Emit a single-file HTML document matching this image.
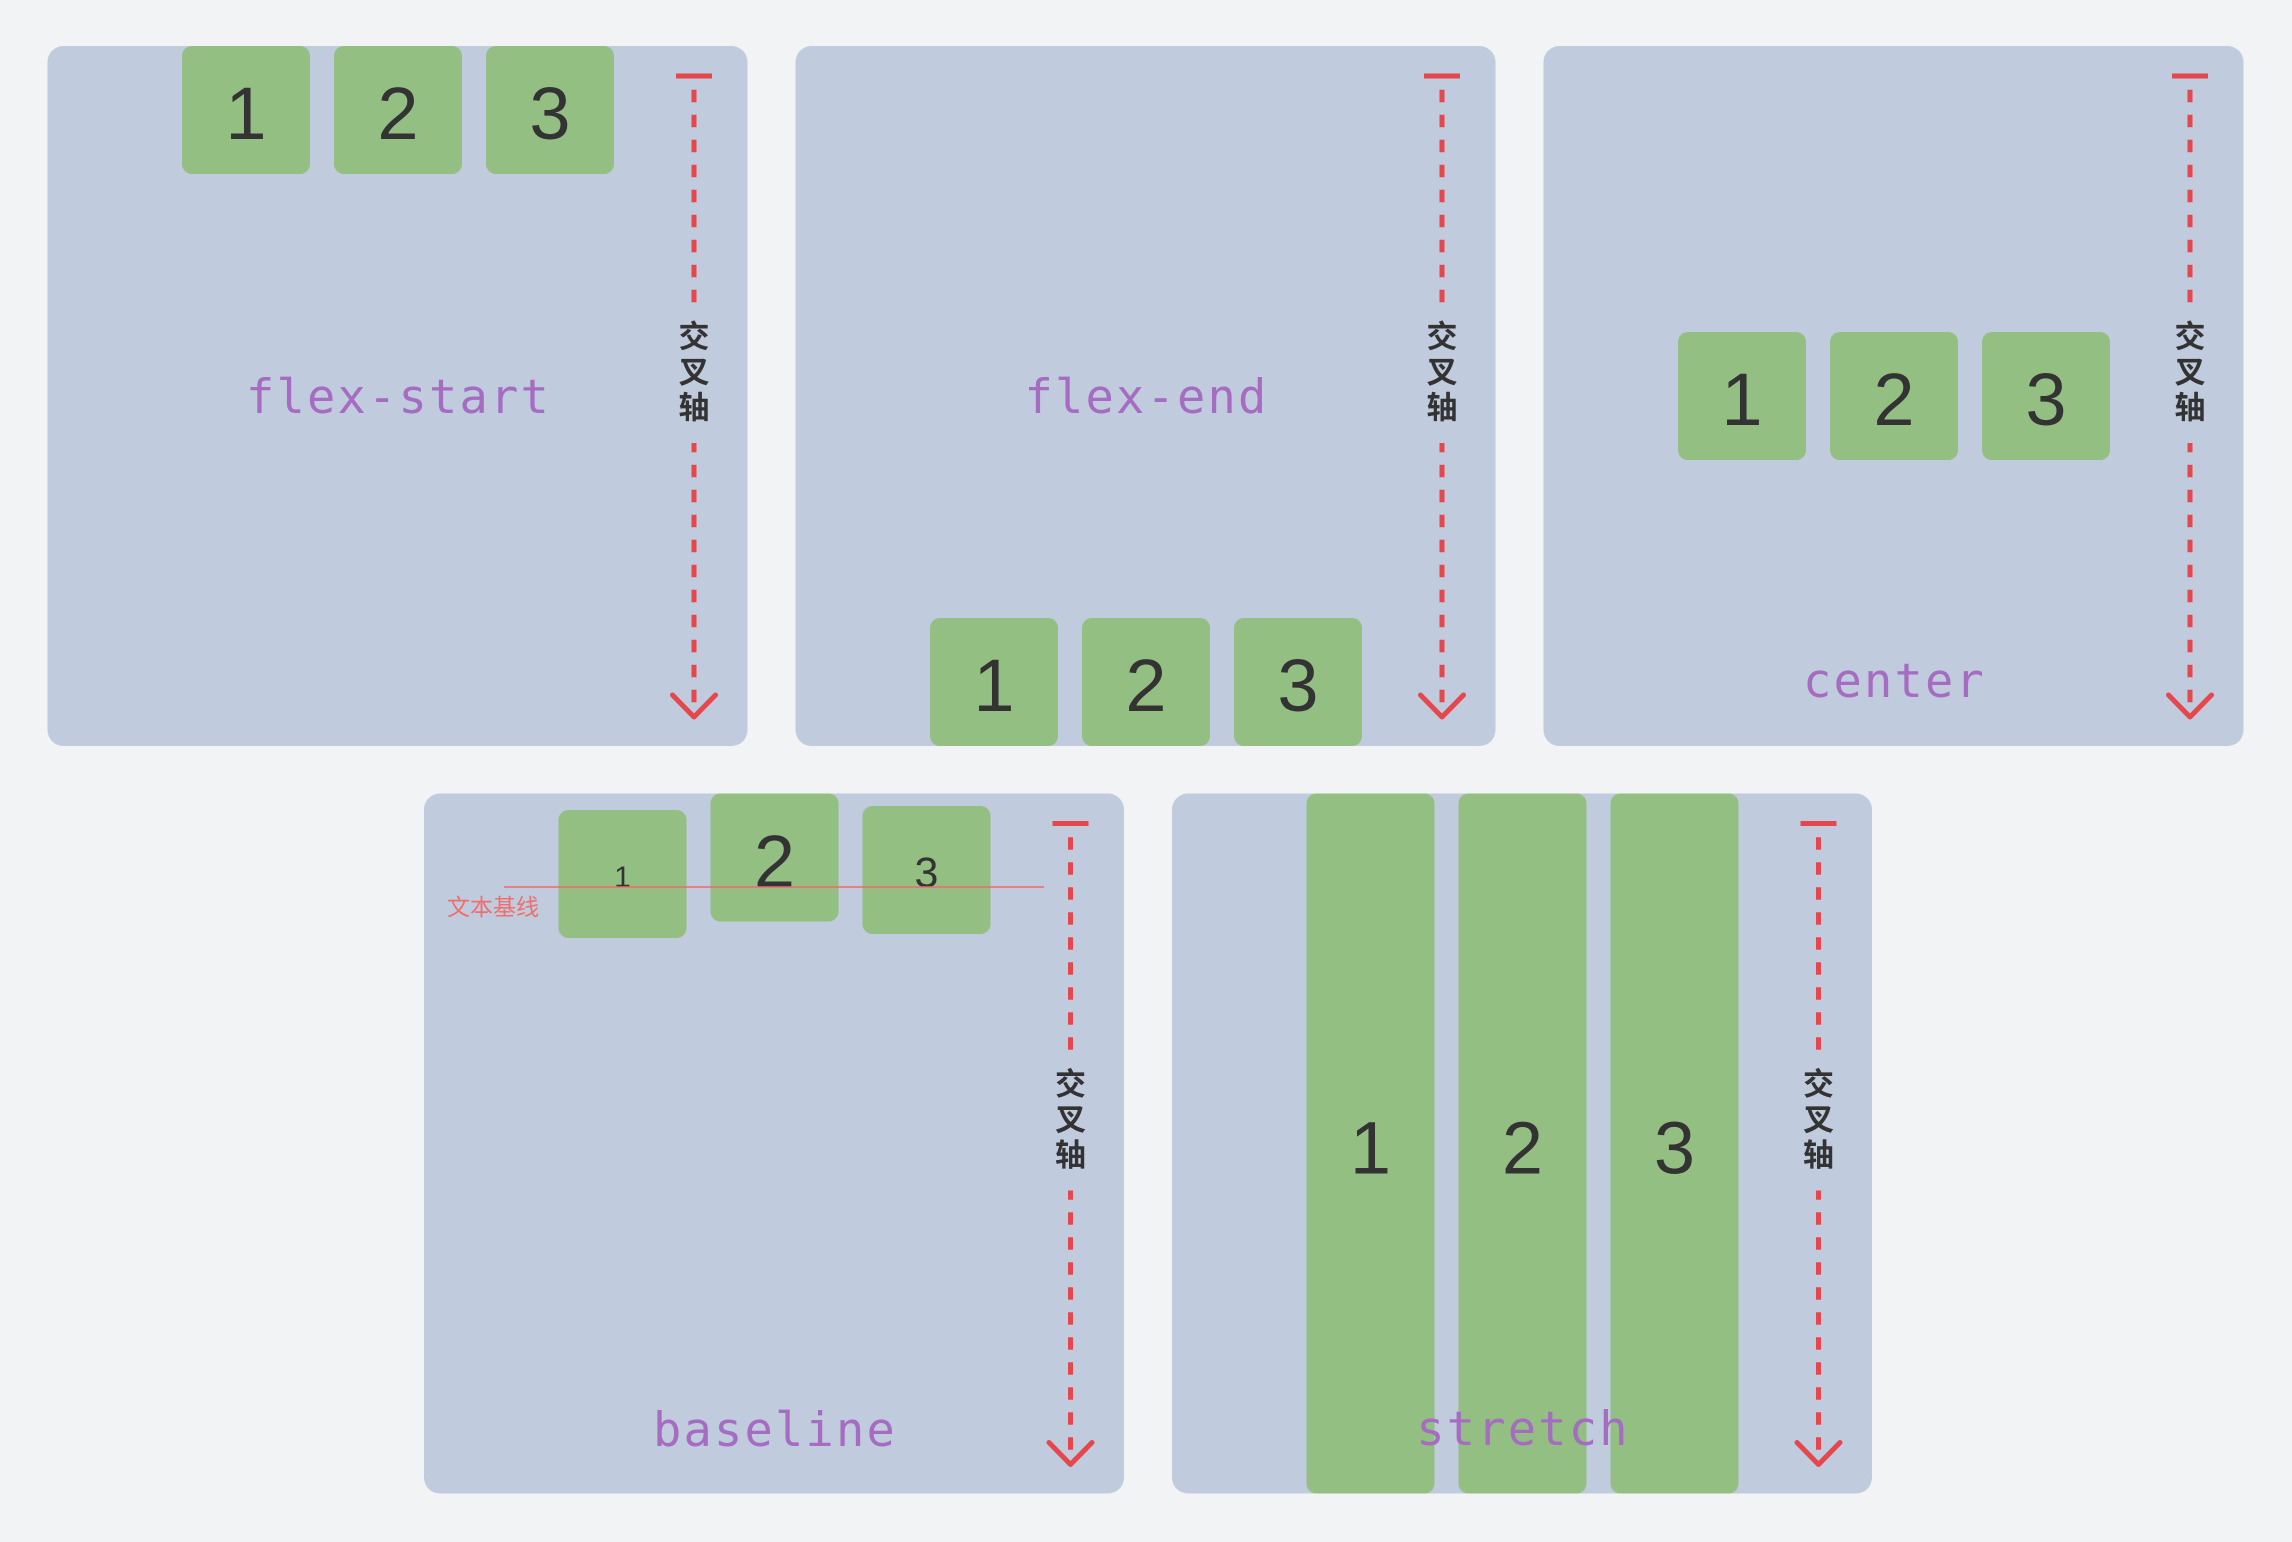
<!DOCTYPE html>
<html>
<head>
<meta charset="utf-8">
<style>
  html, body { margin: 0; padding: 0; background: #f1f3f5; }
  svg { display: block; }
  .panel { fill: #c0cbdd; }
  .box { fill: #94bf83; }
  .dig { font-family: "Liberation Sans", "DejaVu Sans", sans-serif; fill: #333333; text-anchor: middle; }
  .lbl { font-family: "DejaVu Sans Mono", "Liberation Mono", monospace; font-size: 47px; letter-spacing: 2.2px; fill: #a56cc1; text-anchor: middle; }
  .axis { font-family: "Liberation Sans", "Noto Sans CJK SC", sans-serif; font-size: 31px; font-weight: 700; fill: #333333; text-anchor: middle; dominant-baseline: central; }
  .red { stroke: #e5474c; fill: none; stroke-width: 5; }
</style>
</head>
<body>
<svg width="2292" height="1542" viewBox="0 0 2292 1542" xmlns="http://www.w3.org/2000/svg">
  <rect x="0" y="0" width="2292" height="1542" fill="#f1f3f5"/>

  <!-- Panel 1: flex-start -->
  <g transform="translate(47.5,46)">
    <rect class="panel" x="0" y="0" width="700" height="700" rx="16"/>
    <rect class="box" x="134.5" y="0" width="128" height="128" rx="10"/>
    <rect class="box" x="286.5" y="0" width="128" height="128" rx="10"/>
    <rect class="box" x="438.5" y="0" width="128" height="128" rx="10"/>
    <text class="dig" x="198.5" y="93" font-size="74">1</text>
    <text class="dig" x="350.5" y="93" font-size="74">2</text>
    <text class="dig" x="502.5" y="93" font-size="74">3</text>
    <text class="lbl" x="351" y="367">flex-start</text>
    <line class="red" x1="628.5" y1="30" x2="664.5" y2="30"/>
    <line class="red" x1="646.5" y1="30" x2="646.5" y2="669" stroke-dasharray="12.5 12.5" stroke-dashoffset="11.3"/>
    <polyline class="red" points="625,649 646.5,671 668,649" stroke-linecap="round" stroke-linejoin="round"/>
    <rect x="626" y="263" width="41" height="134" fill="#c0cbdd"/>
    <text class="axis" x="646.5" y="291">交</text>
    <text class="axis" x="646.5" y="326.5">叉</text>
    <text class="axis" x="646.5" y="362">轴</text>
  </g>

  <!-- Panel 2: flex-end -->
  <g transform="translate(795.5,46)">
    <rect class="panel" x="0" y="0" width="700" height="700" rx="16"/>
    <rect class="box" x="134.5" y="572" width="128" height="128" rx="10"/>
    <rect class="box" x="286.5" y="572" width="128" height="128" rx="10"/>
    <rect class="box" x="438.5" y="572" width="128" height="128" rx="10"/>
    <text class="dig" x="198.5" y="665" font-size="74">1</text>
    <text class="dig" x="350.5" y="665" font-size="74">2</text>
    <text class="dig" x="502.5" y="665" font-size="74">3</text>
    <text class="lbl" x="351" y="367">flex-end</text>
    <line class="red" x1="628.5" y1="30" x2="664.5" y2="30"/>
    <line class="red" x1="646.5" y1="30" x2="646.5" y2="669" stroke-dasharray="12.5 12.5" stroke-dashoffset="11.3"/>
    <polyline class="red" points="625,649 646.5,671 668,649" stroke-linecap="round" stroke-linejoin="round"/>
    <rect x="626" y="263" width="41" height="134" fill="#c0cbdd"/>
    <text class="axis" x="646.5" y="291">交</text>
    <text class="axis" x="646.5" y="326.5">叉</text>
    <text class="axis" x="646.5" y="362">轴</text>
  </g>

  <!-- Panel 3: center -->
  <g transform="translate(1543.5,46)">
    <rect class="panel" x="0" y="0" width="700" height="700" rx="16"/>
    <rect class="box" x="134.5" y="286" width="128" height="128" rx="10"/>
    <rect class="box" x="286.5" y="286" width="128" height="128" rx="10"/>
    <rect class="box" x="438.5" y="286" width="128" height="128" rx="10"/>
    <text class="dig" x="198.5" y="379" font-size="74">1</text>
    <text class="dig" x="350.5" y="379" font-size="74">2</text>
    <text class="dig" x="502.5" y="379" font-size="74">3</text>
    <text class="lbl" x="351" y="651">center</text>
    <line class="red" x1="628.5" y1="30" x2="664.5" y2="30"/>
    <line class="red" x1="646.5" y1="30" x2="646.5" y2="669" stroke-dasharray="12.5 12.5" stroke-dashoffset="11.3"/>
    <polyline class="red" points="625,649 646.5,671 668,649" stroke-linecap="round" stroke-linejoin="round"/>
    <rect x="626" y="263" width="41" height="134" fill="#c0cbdd"/>
    <text class="axis" x="646.5" y="291">交</text>
    <text class="axis" x="646.5" y="326.5">叉</text>
    <text class="axis" x="646.5" y="362">轴</text>
  </g>

  <!-- Panel 4: baseline -->
  <g transform="translate(424,793.5)">
    <rect class="panel" x="0" y="0" width="700" height="700" rx="16"/>
    <rect class="box" x="134.5" y="16.5" width="128" height="128" rx="10"/>
    <rect class="box" x="286.5" y="0" width="128" height="128" rx="10"/>
    <rect class="box" x="438.5" y="12.5" width="128" height="128" rx="10"/>
    <text class="dig" x="198.5" y="93.5" font-size="30">1</text>
    <text class="dig" x="350.5" y="93.5" font-size="74">2</text>
    <text class="dig" x="502.5" y="93.5" font-size="43">3</text>
    <line x1="80" y1="93.5" x2="620" y2="93.5" stroke="#ee6a6a" stroke-width="1.6"/>
    <text x="23" y="113.5" font-family="'Liberation Sans', 'Noto Sans CJK SC', sans-serif" font-size="23" fill="#ef6e6e" dominant-baseline="central">文本基线</text>
    <text class="lbl" x="351" y="652.5">baseline</text>
    <line class="red" x1="628.5" y1="30" x2="664.5" y2="30"/>
    <line class="red" x1="646.5" y1="30" x2="646.5" y2="669" stroke-dasharray="12.5 12.5" stroke-dashoffset="11.3"/>
    <polyline class="red" points="625,649 646.5,671 668,649" stroke-linecap="round" stroke-linejoin="round"/>
    <rect x="626" y="263" width="41" height="134" fill="#c0cbdd"/>
    <text class="axis" x="646.5" y="291">交</text>
    <text class="axis" x="646.5" y="326.5">叉</text>
    <text class="axis" x="646.5" y="362">轴</text>
  </g>

  <!-- Panel 5: stretch -->
  <g transform="translate(1172,793.5)">
    <rect class="panel" x="0" y="0" width="700" height="700" rx="16"/>
    <rect class="box" x="134.5" y="0" width="128" height="700" rx="10"/>
    <rect class="box" x="286.5" y="0" width="128" height="700" rx="10"/>
    <rect class="box" x="438.5" y="0" width="128" height="700" rx="10"/>
    <text class="dig" x="198.5" y="380" font-size="74">1</text>
    <text class="dig" x="350.5" y="380" font-size="74">2</text>
    <text class="dig" x="502.5" y="380" font-size="74">3</text>
    <text class="lbl" x="351" y="651.5">stretch</text>
    <line class="red" x1="628.5" y1="30" x2="664.5" y2="30"/>
    <line class="red" x1="646.5" y1="30" x2="646.5" y2="669" stroke-dasharray="12.5 12.5" stroke-dashoffset="11.3"/>
    <polyline class="red" points="625,649 646.5,671 668,649" stroke-linecap="round" stroke-linejoin="round"/>
    <rect x="626" y="263" width="41" height="134" fill="#c0cbdd"/>
    <text class="axis" x="646.5" y="291">交</text>
    <text class="axis" x="646.5" y="326.5">叉</text>
    <text class="axis" x="646.5" y="362">轴</text>
  </g>
</svg>
</body>
</html>
